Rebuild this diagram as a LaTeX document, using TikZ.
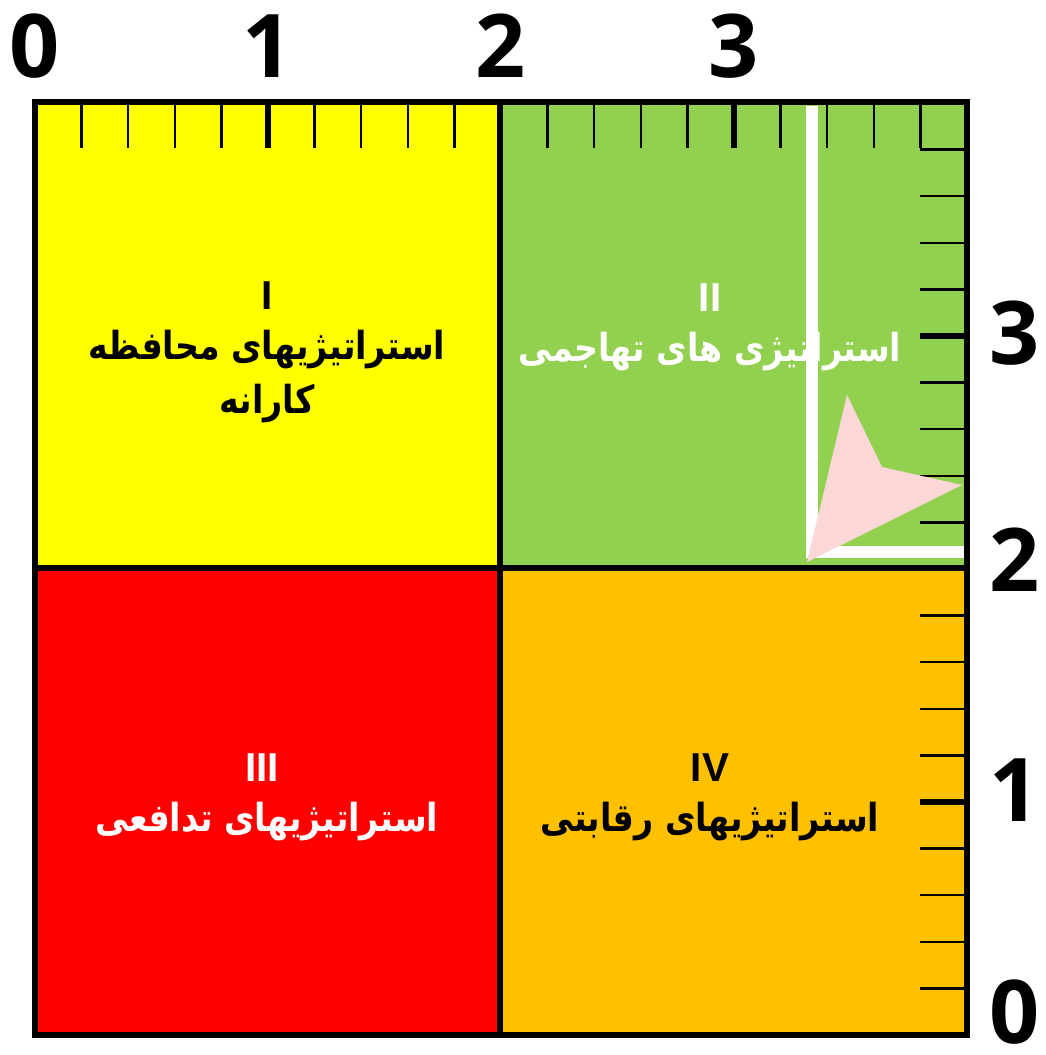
\documentclass[tikz,border=0pt]{standalone}
\usepackage{graphicx}
\usepackage{fontspec}
\setmainfont{Open Sans}
\newfontfamily\farsi[Script=Arabic]{DejaVu Sans}
\newfontfamily\romanfont{Liberation Sans}
\TeXXeTstate=1
\definecolor{quadyellow}{HTML}{FFFF00}
\definecolor{quadgreen}{HTML}{92D050}
\definecolor{quadred}{HTML}{FF0000}
\definecolor{quadorange}{HTML}{FFC000}
\definecolor{markerpink}{HTML}{FCD7D8}
\newcommand{\fa}[1]{\scalebox{0.86}[1]{\beginR #1\endR}}

\begin{document}
\begin{tikzpicture}[x=0.02cm, y=-0.02cm,
    frame/.style={draw=black, line width=3.2pt},
    minortick/.style={line width=1.4pt},
    majortick/.style={line width=3.4pt},
    axislabel/.style={font=\fontsize{50}{50}\selectfont\bfseries, inner sep=0pt},
    numeral/.style={font=\romanfont\bfseries\fontsize{23}{23}\selectfont, inner sep=0pt},
    title/.style={font=\farsi\bfseries\fontsize{22}{22}\selectfont, inner sep=0pt}]

    \useasboundingbox (0,0) rectangle (1045,1055);

    % quadrants
    \fill[quadyellow] (35,102)  rectangle (500,568);
    \fill[quadgreen]  (500,102) rectangle (967,568);
    \fill[quadred]    (35,568)  rectangle (500,1035);
    \fill[quadorange] (500,568) rectangle (967,1035);

    % scales
    \foreach \k in {1,...,19} {
        \ifnum\k=10\relax\else
            \pgfmathsetmacro{\tx}{35+46.6*\k}
            \pgfmathsetmacro{\ty}{1035-46.6*\k}
            \ifnum\k=5 \def\w{majortick}\else\ifnum\k=15 \def\w{majortick}\else\def\w{minortick}\fi\fi
            \draw[\w] (\tx,102) -- (\tx,148);
            \draw[\w] (920,\ty) -- (967,\ty);
        \fi
    }

    % texts
    \node[numeral]        (n1)  at (267,296) {I};
    \node[title]          (t1)  at (267,350) {\fa{استراتیژیهای محافظه}};
    \node[title]          (t1b) at (267,404) {\fa{کارانه}};
    \node[numeral, white] (n2)  at (710,298) {II};
    \node[title, white]   (t2)  at (710,352) {\fa{استراتیژی های تهاجمی}};
    \node[numeral, white] (n3)  at (262,768) {III};
    \node[title, white]   (t3)  at (267,822) {\fa{استراتیژیهای تدافعی}};
    \node[numeral]        (n4)  at (710,768) {IV};
    \node[title]          (t4)  at (710,822) {\fa{استراتیژیهای رقابتی}};

    % marker
    \draw[white, line width=7pt] (812,106) -- (812,552) -- (965,552);
    \fill[markerpink] (807,562) -- (847,395) -- (882,467) -- (962,485) -- cycle;

    % frame
    \draw[frame] (35,102) rectangle (967,1035);
    \draw[frame] (500,102) -- (500,1035);
    \draw[frame] (35,568) -- (967,568);

    % axis numbers
    \foreach \v in {0,...,3} {
        \node[axislabel] (top\v) at (35+233*\v,46) {\v};
    }
    \node[axislabel] (right3) at (1015,333) {3};
    \node[axislabel] (right2) at (1015,560) {2};
    \node[axislabel] (right1) at (1015,790) {1};
    \node[axislabel] (right0) at (1015,1012) {0};
\end{tikzpicture}
\end{document}
